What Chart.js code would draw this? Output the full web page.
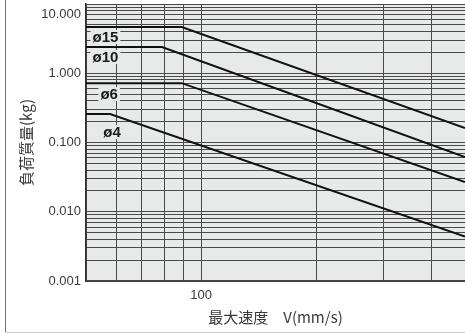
<!DOCTYPE html>
<html><head><meta charset="utf-8">
<script src="https://cdn.jsdelivr.net/npm/chart.js@4"></script>
<style>html,body{margin:0;padding:0;background:#fff;}#wrap{width:465px;height:334px;position:relative;}</style>
</head><body><div id="wrap"><canvas id="c" width="465" height="334"></canvas></div>
<script>
// ---- data ----
const SERIES_NAMES = ['ø15', 'ø10', 'ø6', 'ø4'];
const SPEED_15 = [50, 89, 490];
const MASS_15  = [4.66, 4.66, 0.162];
const SPEED_10 = [50, 79, 490];
const MASS_10  = [2.39, 2.39, 0.0618];
const SPEED_6  = [50, 89, 490];
const MASS_6   = [0.72, 0.72, 0.0269];
const SPEED_4  = [50, 57.8, 490];
const MASS_4   = [0.258, 0.258, 0.00438];
// series name label anchors (data coordinates)
const LABEL_SPEED = [56.2, 56.2, 57.5, 58.5];
const LABEL_MASS  = [3.34, 1.716, 0.50, 0.141];
// axes
const X_MIN = 50, X_MAX = 490;
const Y_MIN = 0.001, Y_MAX = 10;
const X_GRID_TICKS = [50, 60, 70, 80, 90, 100, 200, 300, 400];
const X_TICK_LABELS = [100];
const Y_DECADES = [0.001, 0.01, 0.1, 1, 10];
const Y_DECADE_LABELS = ['0.001', '0.010', '0.100', '1.000', '10.000'];
const Y_MULTIPLIERS = [1, 2, 3, 4, 5, 6, 7, 8, 9];
const X_TITLE = '最大速度　V(mm/s)';
const Y_TITLE = '負荷質量(kg)';

const SPEEDS = [SPEED_15, SPEED_10, SPEED_6, SPEED_4];
const MASSES = [MASS_15, MASS_10, MASS_6, MASS_4];

const Y_TICKS = [];
Y_DECADES.slice(0, -1).forEach(d => Y_MULTIPLIERS.forEach(k => Y_TICKS.push(+(d * k).toPrecision(3))));
Y_TICKS.push(Y_DECADES[Y_DECADES.length - 1]);

const PLOT_BG = '#e8e9e9';
const GRID = '#4a4a4a';
const TEXT = '#3a3a3a';

const bgPlugin = {
  id: 'bg',
  beforeDraw(chart) {
    const {ctx, chartArea: a} = chart;
    ctx.save();
    ctx.fillStyle = PLOT_BG;
    ctx.fillRect(a.left, a.top, a.right - a.left, a.bottom - a.top);
    ctx.restore();
  },
  afterDraw(chart) {
    const {ctx, chartArea: a} = chart;
    const ys = chart.scales.y;
    ctx.save();
    // y decade labels
    ctx.fillStyle = TEXT;
    ctx.font = '13px "Liberation Sans", Arial, sans-serif';
    ctx.textAlign = 'right';
    ctx.textBaseline = 'middle';
    Y_DECADES.forEach((v, i) => {
      let y = ys.getPixelForValue(v);
      if (y < a.top + 10) y = a.top + 10;
      ctx.fillText(Y_DECADE_LABELS[i], a.left - 5, y);
    });
    // outer frame
    ctx.strokeStyle = '#777';
    ctx.lineWidth = 1;
    ctx.beginPath(); ctx.moveTo(5.5, 0); ctx.lineTo(5.5, 333); ctx.stroke();
    ctx.strokeStyle = '#ccc';
    ctx.beginPath(); ctx.moveTo(5, 332.5); ctx.lineTo(465, 332.5); ctx.stroke();
    ctx.restore();
  }
};

const namePlugin = {
  id: 'names',
  afterDatasetsDraw(chart) {
    const {ctx} = chart;
    const xs = chart.scales.x, ys = chart.scales.y;
    ctx.save();
    ctx.font = 'bold 15px "Liberation Sans", Arial, sans-serif';
    ctx.textAlign = 'center';
    ctx.textBaseline = 'middle';
    SERIES_NAMES.forEach((n, i) => {
      const x = xs.getPixelForValue(LABEL_SPEED[i]);
      const y = ys.getPixelForValue(LABEL_MASS[i]);
      const w = ctx.measureText(n).width + 4;
      ctx.fillStyle = PLOT_BG;
      ctx.fillRect(x - w / 2, y - 7, w, 14);
      ctx.fillStyle = '#1a1a1a';
      ctx.fillText(n, x, y + 1);
    });
    ctx.restore();
  }
};

new Chart(document.getElementById('c').getContext('2d'), {
  type: 'line',
  data: {
    datasets: SERIES_NAMES.map((n, i) => ({
      label: n,
      data: SPEEDS[i].map((v, j) => ({x: v, y: MASSES[i][j]})),
      borderColor: '#111',
      borderWidth: 2,
      pointRadius: 0,
      fill: false,
      tension: 0
    }))
  },
  options: {
    responsive: false,
    animation: false,
    devicePixelRatio: 1,
    layout: {padding: {top: 4, right: 0, bottom: 0, left: 0}},
    plugins: {legend: {display: false}, tooltip: {enabled: false}},
    scales: {
      x: {
        type: 'logarithmic', min: X_MIN, max: X_MAX, position: 'bottom',
        afterBuildTicks: s => { s.ticks = X_GRID_TICKS.map(v => ({value: v})); },
        afterFit: s => { s.height = 53; },
        grid: {color: GRID, lineWidth: 1, drawTicks: false},
        border: {display: true, color: '#444', width: 2},
        ticks: {
          autoSkip: false, maxRotation: 0, padding: 7, color: TEXT,
          font: {family: '"Liberation Sans", Arial, sans-serif', size: 13},
          callback: v => X_TICK_LABELS.includes(v) ? String(v) : ''
        },
        title: {
          display: true, text: X_TITLE, color: TEXT,
          font: {family: '"Noto Sans CJK JP", sans-serif', size: 15},
          padding: {top: 0, bottom: 8}
        }
      },
      y: {
        type: 'logarithmic', min: Y_MIN, max: Y_MAX,
        afterBuildTicks: s => { s.ticks = Y_TICKS.map(v => ({value: v})); },
        afterFit: s => { s.width = 86; },
        grid: {color: GRID, lineWidth: 1, drawTicks: false},
        border: {display: true, color: '#333', width: 1.5},
        ticks: {display: false},
        title: {
          display: true, text: Y_TITLE, color: TEXT,
          font: {family: '"Noto Sans CJK JP", sans-serif', size: 15},
          padding: {top: 17, bottom: 0}
        }
      }
    }
  },
  plugins: [bgPlugin, namePlugin]
});
</script></body></html>
